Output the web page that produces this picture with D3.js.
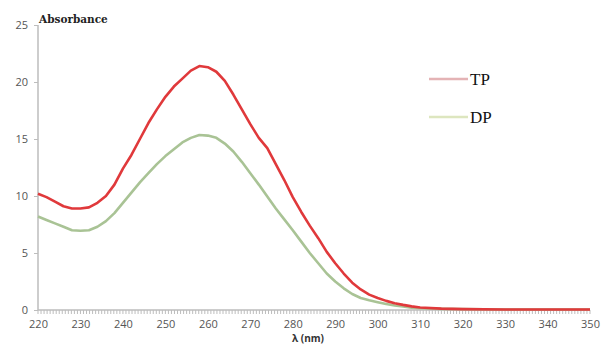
<!DOCTYPE html>
<html><head><meta charset="utf-8">
<script src="https://cdn.jsdelivr.net/npm/d3@7"></script>
<style>body{margin:0;background:#fff}svg{display:block}</style>
</head><body>
<script>
const wavelengths = [220,222,224,226,228,230,232,234,236,238,240,242,244,246,248,250,252,254,256,258,260,262,264,266,268,270,272,274,276,278,280,282,284,286,288,290,292,294,296,298,300,302,304,306,308,310,315,320,330,340,350];
const tpValues = [10.2,9.9,9.5,9.1,8.9,8.9,9.0,9.4,10.0,11.0,12.4,13.6,15.0,16.4,17.6,18.7,19.6,20.3,21.0,21.4,21.3,20.9,20.1,18.9,17.6,16.3,15.1,14.2,12.8,11.4,9.9,8.6,7.4,6.3,5.1,4.1,3.2,2.4,1.8,1.35,1.05,0.8,0.6,0.45,0.32,0.22,0.12,0.08,0.05,0.05,0.05];
const dpValues = [8.2,7.9,7.6,7.3,7.0,6.95,7.0,7.3,7.8,8.5,9.4,10.3,11.2,12.0,12.8,13.5,14.1,14.7,15.1,15.35,15.3,15.1,14.6,13.9,13.0,12.0,11.0,9.95,8.9,7.95,7.0,6.0,5.0,4.1,3.2,2.5,1.9,1.4,1.05,0.85,0.68,0.52,0.4,0.3,0.2,0.15,0.1,0.08,0.05,0.05,0.05];
const xTicks = [220,230,240,250,260,270,280,290,300,310,320,330,340,350];
const yTicks = [0,5,10,15,20,25];
const seriesNames = ["TP","DP"];

const W = 602, H = 352;
const svg = d3.select("body").append("svg").attr("width", W).attr("height", H);
const x = d3.scaleLinear().domain([220,350]).range([38,590]);
const y = d3.scaleLinear().domain([0,25]).range([310,25]);

// axes
const axisColor = "#bdbdbd";
svg.append("line").attr("x1",x(220)).attr("x2",x(220)).attr("y1",y(25)).attr("y2",y(0)).attr("stroke",axisColor).attr("stroke-width",1.5);
svg.append("line").attr("x1",x(220)).attr("x2",x(350)).attr("y1",y(0)).attr("y2",y(0)).attr("stroke",axisColor).attr("stroke-width",1.5);

// y ticks
const yAxis = d3.axisLeft(y).tickValues(yTicks).tickSize(4).tickPadding(6);
const gy = svg.append("g").attr("transform",`translate(${x(220)},0)`).call(yAxis);
gy.select(".domain").remove();
gy.selectAll("line").attr("stroke",axisColor);
gy.selectAll("text").attr("fill","#555").style("font-family","'Open Sans', sans-serif").style("font-size","11px");

// x minor ticks
const minor = d3.range(220, 350.01, 10/14);
svg.append("g").selectAll("line").data(minor).join("line")
  .attr("x1",d=>x(d)).attr("x2",d=>x(d)).attr("y1",y(0)).attr("y2",y(0)+4)
  .attr("stroke",axisColor).attr("stroke-width",1);

const gx = svg.append("g").attr("transform",`translate(0,${y(0)})`)
  .call(d3.axisBottom(x).tickValues(xTicks).tickFormat(d3.format("d")).tickSize(0).tickPadding(10));
gx.select(".domain").remove();
gx.selectAll("text").attr("fill","#555").style("font-family","'Open Sans', sans-serif").style("font-size","11px");

// labels
svg.append("text").attr("x",39).attr("y",23).text("Absorbance")
  .style("font-family","'DejaVu Serif', serif").style("font-weight","bold").style("font-size","10.5px").attr("fill","#222");
svg.append("text").attr("x",308).attr("y",342).attr("text-anchor","middle").text("λ (nm)")
  .style("font-family","'Open Sans', sans-serif").style("font-weight","bold").style("font-size","10px").attr("fill","#333");

// lines
const line = d3.line().x((d,i)=>x(wavelengths[i])).y(d=>y(d));
svg.append("path").datum(dpValues).attr("d",line).attr("fill","none").attr("stroke","#a9c395").attr("stroke-width",2.6).attr("stroke-linejoin","round");
svg.append("path").datum(tpValues).attr("d",line).attr("fill","none").attr("stroke","#e0393b").attr("stroke-width",2.6).attr("stroke-linejoin","round");

// legend
const legendColors = ["#e4b3b5","#dde6bf"];
seriesNames.forEach((n,i)=>{
  const ly = 79 + i*38;
  svg.append("line").attr("x1",429).attr("x2",468).attr("y1",ly).attr("y2",ly).attr("stroke",legendColors[i]).attr("stroke-width",2.5);
  svg.append("text").attr("x",470).attr("y",ly+6).text(n)
    .style("font-family","'Liberation Serif', serif").style("font-size","17px").attr("fill","#111");
});
</script>
</body></html>
